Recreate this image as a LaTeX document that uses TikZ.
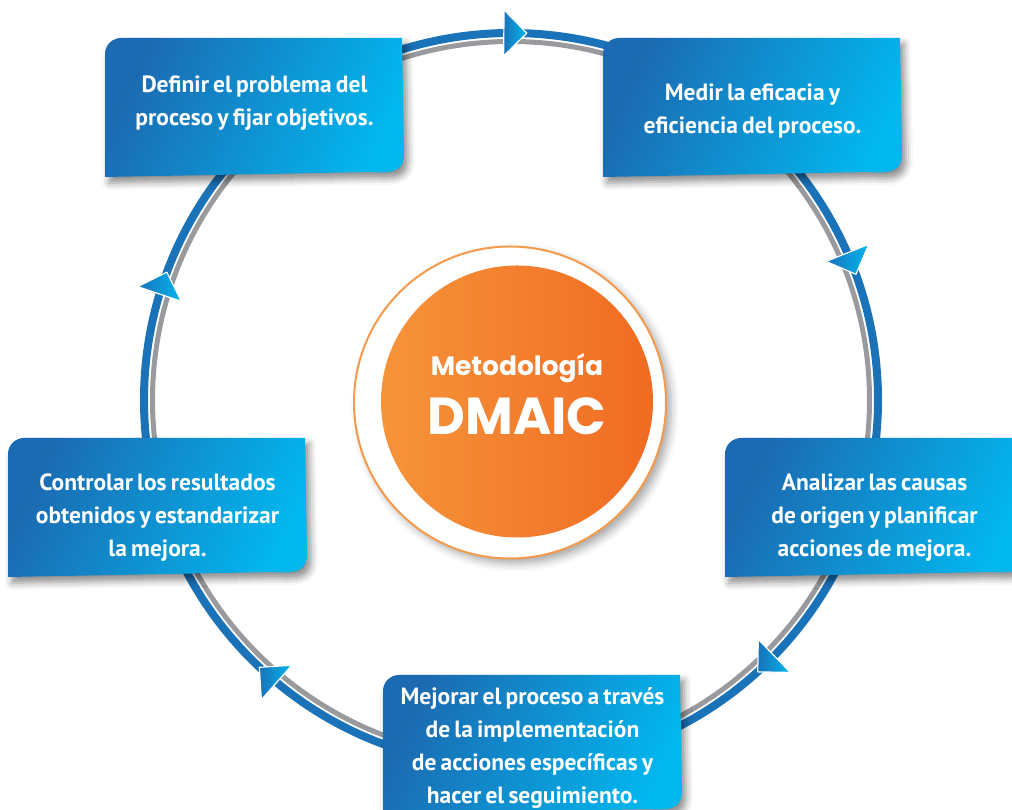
\documentclass[tikz,border=0pt]{standalone}
\usepackage{fontspec}
\setmainfont{PT Sans}
\newfontfamily\cardfont{PT Sans}[WordSpace=0.7]
\newfontfamily\headfont{Poppins}
\usetikzlibrary{shadows.blur}
\definecolor{cardL}{HTML}{1C6AB1}
\definecolor{cardR}{HTML}{02B6EE}
\definecolor{ringblue}{HTML}{1A72B9}
\definecolor{ringgray}{HTML}{999A9D}
\definecolor{orL}{HTML}{F6943A}
\definecolor{orR}{HTML}{F06B22}
\definecolor{orline}{HTML}{F39A4C}
\begin{document}
\begin{tikzpicture}[x=1pt, y=1pt, line join=round, line cap=round,
	cardtext/.style={text=white, font=\cardfont\bfseries\fontsize{23.5}{33}\selectfont, align=center, inner sep=0pt},
	cardfill/.style={left color=cardL, right color=cardR, shading angle=65, blur shadow={shadow xshift=4pt, shadow yshift=-6pt, shadow blur radius=7pt, shadow opacity=45}},
	tiphead/.style={left color=ringblue, right color=cardR, draw=white, line width=1.2pt}]
		\useasboundingbox (0,0) rectangle (1012,810);
		\path	(511,410) coordinate (C);
		\draw[ringblue, line width=8] (C) circle[radius=367];
		\draw[ringgray, line width=5] (C) circle[radius=358.5];
		\foreach \a in {89.4,21.9,-45.9,228.6,161.5}
			\shade[tiphead, shift={(C)}, rotate=\a] (367,-12) -- (390,11) -- (344,11) -- cycle;
		\node[circle, minimum size=312, fill=white, draw=orline, line width=2, blur shadow={shadow xshift=5pt, shadow yshift=-5pt, shadow blur radius=8pt, shadow opacity=35}] (halo) at (510,407.5) {};
		\node[circle, minimum size=272, left color=orL, right color=orR] (core) at (517,408.5) {};
		\node[text=white, font=\headfont\bfseries\fontsize{26.5}{27}\selectfont, anchor=base] (title) at (517,434) {Metodología};
		\node[text=white, font=\headfont\bfseries\fontsize{52}{52}\selectfont, anchor=base] (acro) at (517,375) {DMAIC};
		\foreach \n/\x/\y/\ty/\t in {define/105/633/74/{Definir el problema del\\proceso y fijar objetivos.},
			measure/603/633/66/{Medir la eficacia y\\eficiencia del proceso.},
			analyze/725/233/59/{Analizar las causas\\de origen y planificar\\acciones de mejora.},
			improve/383/-4/66/{Mejorar el proceso a través\\de la implementación\\de acciones específicas y\\hacer el seguimiento.},
			control/8/233/59/{Controlar los resultados\\obtenidos y estandarizar\\la mejora.}}{
			\path[cardfill] (\x,\y) -- (\x,\y+123) arc[start angle=180, end angle=90, radius=16] -- (\x+297,\y+139) -- (\x+299,\y+24) .. controls (\x+299,\y+8) and (\x+292,\y+3) .. (\x+266,\y+5) -- cycle;
			\node[cardtext] (\n) at (\x+149.5,\y+\ty) {\t};
		}
\end{tikzpicture}
\end{document}
